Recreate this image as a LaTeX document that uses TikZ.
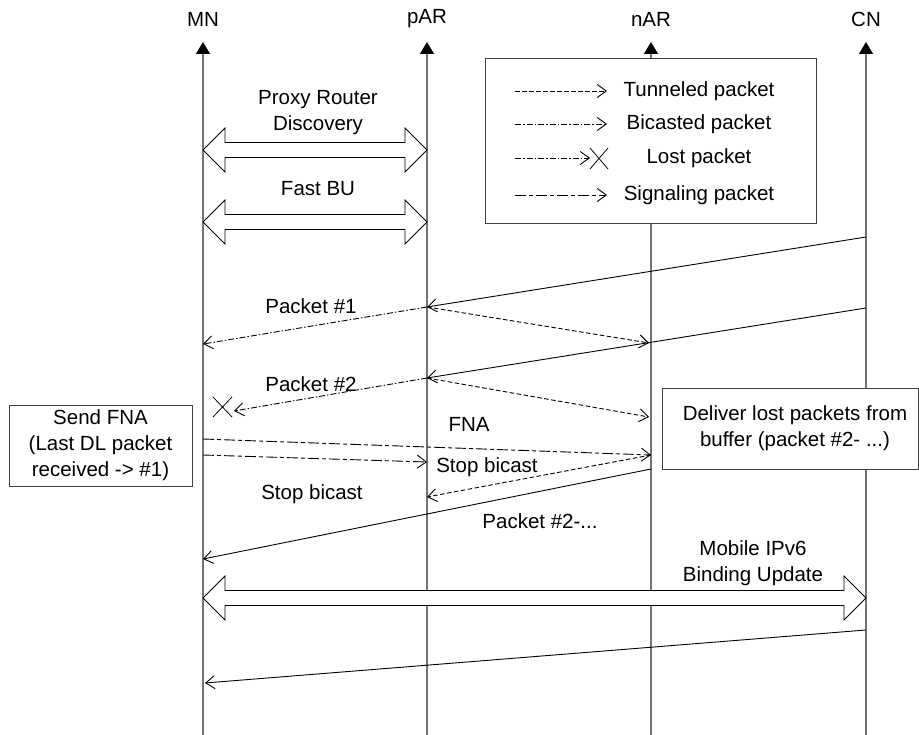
\documentclass[tikz,border=0pt]{standalone}
\usepackage{fontspec}
\setmainfont{Liberation Sans}
\usetikzlibrary{arrows.meta}

\tikzset{
  lifeline/.style={black!55, line width=1.3pt, -{Triangle[length=12pt,width=14pt,color=black]}},
  msg/.style={line width=0.9pt, -{Straight Barb[length=9pt,width=13pt]}},
  tunnel/.style={msg, dash pattern=on 4.5pt off 2.5pt},
  bicast/.style={msg, dash pattern=on 6pt off 2pt on 1.5pt off 2pt},
  signal/.style={msg, dash pattern=on 11pt off 3pt on 4pt off 3pt},
  bigarrow/.style={draw, fill=white, line width=0.8pt},
  infobox/.style={draw=black!75, fill=white, line width=0.9pt},
  txt/.style={font=\fontsize{20.5}{26}\selectfont, align=center, inner sep=0pt},
}

% wide hollow double arrow: left x, right x, y
\newcommand{\bigdarrow}[3]{%
  \draw[bigarrow] (#1,#3) -- (#1+22,#3-22) -- (#1+22,#3-7.5) -- (#2-22,#3-7.5)
    -- (#2-22,#3-22) -- (#2,#3) -- (#2-22,#3+22) -- (#2-22,#3+7.5)
    -- (#1+22,#3+7.5) -- (#1+22,#3+22) -- cycle;}

\begin{document}
\begin{tikzpicture}[x=1pt,y=-1pt]
    \useasboundingbox (0,0) rectangle (919,735);

    % lifelines
    \foreach \n/\x in {MN/203, pAR/427, nAR/651, CN/866} {
        \node[txt] (\n) at (\x,19) {\n};
        \coordinate (\n top) at (\x,42);
        \draw[lifeline] (\x,735) -- (\n top);
    }

    % legend
    \node[infobox, minimum width=331pt, minimum height=165pt] (legend) at (650.5,140.5) {};
    \draw[tunnel] (515,91) -- (607,91);
    \node[txt] (lgtunnel) at (699,91) {Tunneled packet};
    \draw[bicast] (515,124) -- (607,124);
    \node[txt] (lgbicast) at (699,124) {Bicasted packet};
    \draw[bicast] (515,158) -- (590,158);
    \draw[line width=0.8pt] (590,148) -- (608,169) (590,169) -- (608,148);
    \node[txt] (lglost) at (699,158) {Lost packet};
    \draw[signal] (515,195) -- (607,195);
    \node[txt] (lgsignal) at (699,195) {Signaling packet};

    % proxy router discovery, fast BU
    \node[txt] (prd) at (318,113) {Proxy Router\\Discovery};
    \bigdarrow{203}{427}{150}
    \node[txt] (fbu) at (318,189) {Fast BU};
    \bigdarrow{203}{427}{222}

    % packet 1
    \coordinate (cn1) at (866,237);
    \coordinate (par1) at (427,307);
    \coordinate (mn1) at (203,344);
    \coordinate (nar1) at (649,343);
    \draw[msg] (cn1) -- (par1);
    \draw[bicast] (par1) -- (mn1);
    \draw[tunnel] (par1) -- (nar1);
    \node[txt] (pk1) at (311,306) {Packet \#1};

    % packet 2
    \coordinate (cn2) at (866,308);
    \coordinate (par2) at (427,378);
    \coordinate (lost) at (234,411);
    \coordinate (nar2) at (649,417);
    \draw[msg] (cn2) -- (par2);
    \draw[bicast] (par2) -- (lost);
    \draw[line width=0.8pt] (213,397) -- (232,417) (213,417) -- (232,397);
    \draw[tunnel] (par2) -- (nar2);
    \node[txt] (pk2) at (311,384) {Packet \#2};

    % boxes
    \node[infobox, minimum width=183pt, minimum height=81pt] (sendfna) at (100.5,445.5) {};
    \node[txt] at (sendfna) {Send FNA\\(Last DL packet\\received -> \#1)};
    \node[infobox, minimum width=256pt, minimum height=81pt] (deliver) at (790,428.5) {};
    \node[txt] at (795,428.5) {Deliver lost packets from\\buffer (packet \#2- ...)};

    % FNA and stop bicast
    \coordinate (mnf) at (203,439);
    \coordinate (narf) at (651,455);
    \coordinate (mns) at (203,455);
    \coordinate (pars) at (427,462);
    \coordinate (pars2) at (427,497);
    \draw[signal] (mnf) -- (narf);
    \draw[signal] (mns) -- (pars);
    \draw[tunnel] (narf) -- (pars2);
    \node[txt] (fna) at (469,424) {FNA};
    \node[txt] (stop1) at (487,467) {Stop bicast};
    \node[txt] (stop2) at (312,494) {Stop bicast};

    % forwarded packets
    \coordinate (narp) at (651,469);
    \coordinate (mnp) at (203,559);
    \draw[msg] (narp) -- (mnp);
    \node[txt] (pk3) at (540,521) {Packet \#2-...};

    % binding update
    \node[txt] (mip) at (753,563) {Mobile IPv6\\Binding Update};
    \bigdarrow{203}{866}{598}
    \coordinate (cn3) at (866,630);
    \coordinate (mn3) at (205,683);
    \draw[msg] (cn3) -- (mn3);
\end{tikzpicture}
\end{document}
